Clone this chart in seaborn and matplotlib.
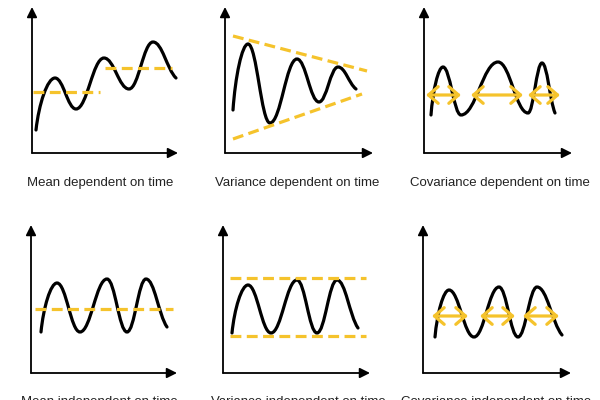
import matplotlib
matplotlib.use('Agg')
import matplotlib.pyplot as plt
from matplotlib.path import Path
from matplotlib.patches import PathPatch
import seaborn as sns

sns.set_style('white')
plt.rcParams['font.family'] = ['Liberation Sans', 'DejaVu Sans']

YELLOW = '#F5C32C'

titles = ['Mean dependent on time', 'Variance dependent on time', 'Covariance dependent on time',
          'Mean independent on time', 'Variance independent on time', 'Covariance independent on time']

# turning points of each sketched series (time, value): start, peaks / troughs, end
mean_dep_t = [4, 23, 44, 72, 97, 121, 144]
mean_dep_v = [23, 75, 44, 95, 64, 111, 75]
var_dep_t = [8, 23, 45, 72, 94, 113, 131]
var_dep_v = [43, 109, 30, 94, 51, 86, 64]
cov_dep_t = [7, 19, 37, 74, 104, 118, 131]
cov_dep_v = [38, 86, 38, 91, 40, 90, 40]
mean_ind_t = [10, 26, 49, 76, 96, 115, 136]
mean_ind_v = [41, 90, 41, 94, 41, 94, 46]
var_ind_t = [9, 25, 48, 74, 94, 114, 135]
var_ind_v = [40, 88, 40, 93, 40, 93, 45]
cov_ind_t = [12, 26, 51, 76, 95, 114, 139]
cov_ind_v = [36, 83, 36, 86, 36, 86, 38]

# yellow guides
mean_dep_seg_t = [[1, 68], [73, 140]]
mean_dep_seg_v = [[61, 61], [85, 85]]
var_dep_seg_t = [[8, 142], [8, 137]]
var_dep_seg_v = [[117, 82], [14, 59]]
mean_ind_seg_t = [[4, 142]]
mean_ind_seg_v = [[64, 64]]
var_ind_seg_t = [[7, 143], [7, 143]]
var_ind_seg_v = [[95, 95], [37, 37]]
cov_dep_span_start = [2, 47, 104]
cov_dep_span_end = [37, 99, 136]
cov_dep_level = 58
cov_ind_span_start = [9, 57, 100]
cov_ind_span_end = [45, 92, 136]
cov_ind_level = 57

curves = [(mean_dep_t, mean_dep_v), (var_dep_t, var_dep_v), (cov_dep_t, cov_dep_v),
          (mean_ind_t, mean_ind_v), (var_ind_t, var_ind_v), (cov_ind_t, cov_ind_v)]
guides = [(mean_dep_seg_t, mean_dep_seg_v), (var_dep_seg_t, var_dep_seg_v), None,
          (mean_ind_seg_t, mean_ind_seg_v), (var_ind_seg_t, var_ind_seg_v), None]
spans = [None, None, (cov_dep_span_start, cov_dep_span_end, cov_dep_level),
         None, None, (cov_ind_span_start, cov_ind_span_end, cov_ind_level)]

# panel layout in pixels: axis corner, arrow lengths, label position
origins = [(32, 153), (225, 153), (424, 153), (31, 373), (223, 373), (423, 373)]
x_len = [146, 148, 148, 146, 147, 148]
y_len = [146, 146, 146, 148, 148, 148]
label_x = [100, 297, 500, 99, 298, 496]


def curve_path(t, v):
    # smooth wave through the turning points (flat tangents at peaks/troughs)
    verts = [(t[0], v[0])]
    codes = [Path.MOVETO]
    n = len(t)
    for i in range(n - 1):
        x0, y0, x1, y1 = t[i], v[i], t[i + 1], v[i + 1]
        dx, dy = x1 - x0, y1 - y0
        if i == 0:
            c1 = (x0 + 0.15 * dx, y0 + 0.5 * dy)
        else:
            c1 = (x0 + 0.4 * dx, y0)
        if i == n - 2:
            c2 = (x1 - 0.4 * dx, y1 - 0.25 * dy)
        else:
            c2 = (x1 - 0.4 * dx, y1)
        verts += [c1, c2, (x1, y1)]
        codes += [Path.CURVE4] * 3
    return Path(verts, codes)


fig = plt.figure(figsize=(6, 4), dpi=100)

for k in range(6):
    ox, oy = origins[k]
    ax = fig.add_axes([ox / 600, (400 - oy) / 400, 150 / 600, 150 / 400])

    t, v = curves[k]
    ax.add_patch(PathPatch(curve_path(t, v), fill=False, lw=2.3,
                           edgecolor='black', capstyle='round', zorder=2))

    if guides[k] is not None:
        for gt, gv in zip(*guides[k]):
            sns.lineplot(x=gt, y=gv, ax=ax, color=YELLOW, lw=2.3,
                         linestyle=(0, (3.4, 1.7)), zorder=3)

    if spans[k] is not None:
        s0, s1, lev = spans[k]
        for a, b in zip(s0, s1):
            ax.annotate('', xy=(b, lev), xytext=(a, lev),
                        arrowprops=dict(arrowstyle='<->,head_length=0.7,head_width=0.6',
                                        color=YELLOW, lw=2.3, shrinkA=0, shrinkB=0),
                        annotation_clip=False, zorder=3)

    # axis arrows
    arrow = dict(arrowstyle='-|>,head_length=0.6,head_width=0.3', color='black',
                 lw=1.3, shrinkA=0, shrinkB=0)
    ax.annotate('', xy=(x_len[k], 0), xytext=(0, 0), arrowprops=arrow, annotation_clip=False)
    ax.annotate('', xy=(0, y_len[k]), xytext=(0, 0), arrowprops=arrow, annotation_clip=False)

    ax.set_xlim(0, 150)
    ax.set_ylim(0, 150)
    ax.set_axis_off()

    if k < 3:
        fig.text(label_x[k] / 600, 1 - 183 / 400, titles[k], ha='center', va='center',
                 fontsize=9.5, color='#222222')
    else:
        fig.text(label_x[k] / 600, 1 - 396.5 / 400, titles[k], ha='center', va='top',
                 fontsize=9.5, color='#222222')

fig.savefig('out.png', dpi=100)
